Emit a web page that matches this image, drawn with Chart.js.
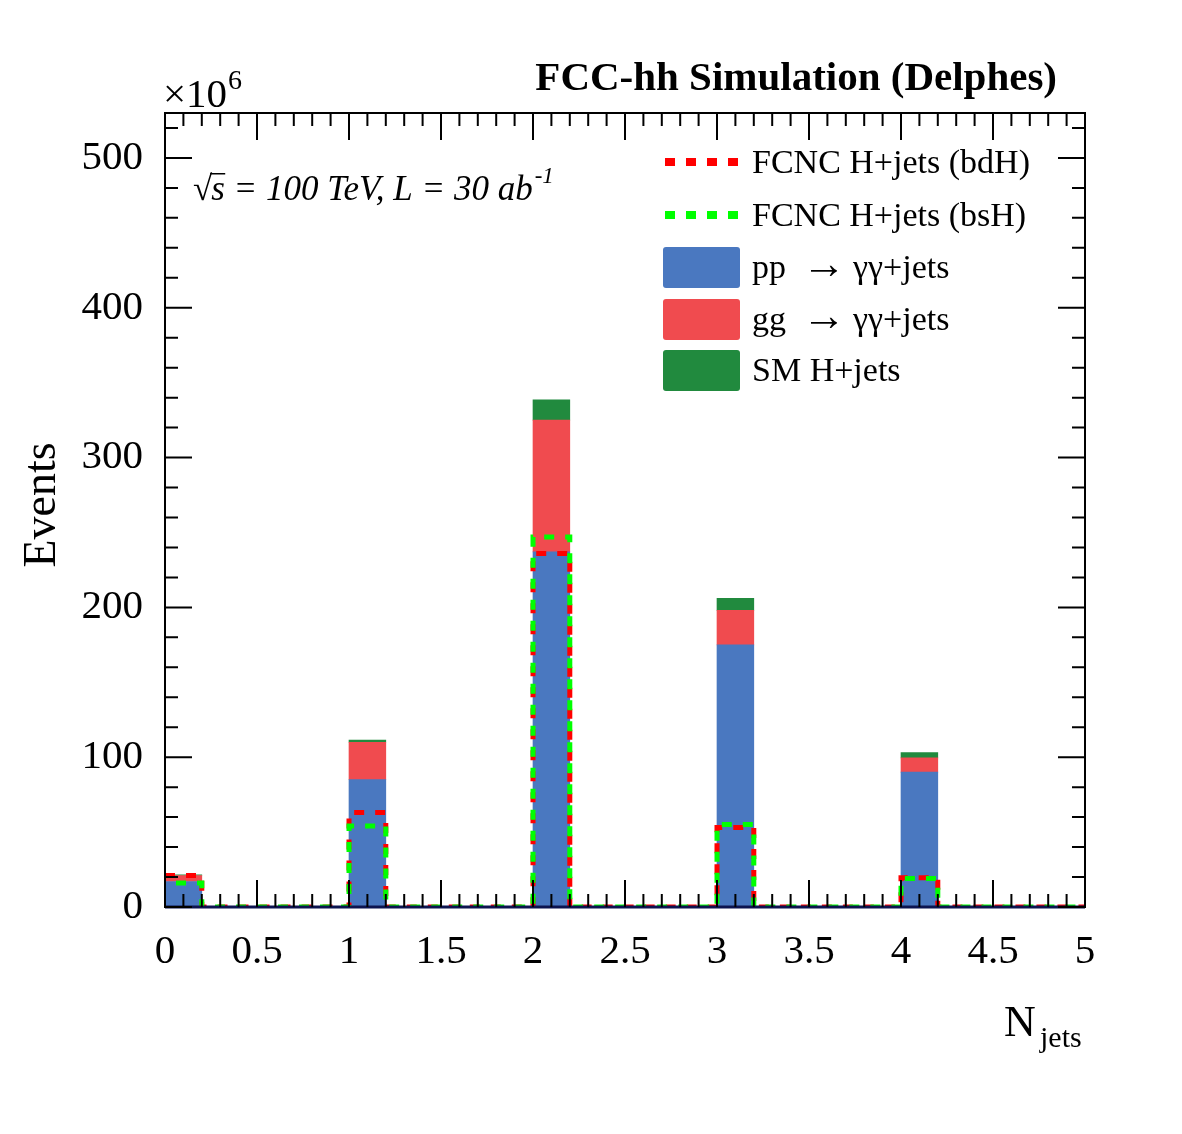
<!DOCTYPE html>
<html>
<head>
<meta charset="utf-8">
<script src="https://cdn.jsdelivr.net/npm/chart.js@4.4.1/dist/chart.umd.min.js"></script>
<style>
  html, body { margin: 0; padding: 0; background: #fff; }
  #wrap { width: 1182px; height: 1134px; position: relative; }
</style>
</head>
<body>
<div id="wrap"><canvas id="chart"></canvas></div>
<script>
// ── data (units of 10^6 events) ──────────────────────────────
const binLow  = [0, 0.2, 0.4, 0.6, 0.8, 1, 1.2, 1.4, 1.6, 1.8, 2, 2.2, 2.4, 2.6, 2.8,
                 3, 3.2, 3.4, 3.6, 3.8, 4, 4.2, 4.4, 4.6, 4.8];
const binHigh = 5;
const ppJets  = [17, 0, 0, 0, 0, 85, 0, 0, 0, 0, 237, 0, 0, 0, 0, 175, 0, 0, 0, 0, 90, 0, 0, 0, 0];
const ggJets  = [4, 0, 0, 0, 0, 25, 0, 0, 0, 0, 88, 0, 0, 0, 0, 23, 0, 0, 0, 0, 9.5, 0, 0, 0, 0];
const smH     = [0.5, 0, 0, 0, 0, 1.5, 0, 0, 0, 0, 13.5, 0, 0, 0, 0, 8, 0, 0, 0, 0, 3.5, 0, 0, 0, 0];
const bdH     = [21, 0, 0, 0, 0, 63, 0, 0, 0, 0, 236, 0, 0, 0, 0, 53, 0, 0, 0, 0, 19.5, 0, 0, 0, 0];
const bsH     = [16, 0, 0, 0, 0, 54, 0, 0, 0, 0, 247, 0, 0, 0, 0, 55, 0, 0, 0, 0, 19, 0, 0, 0, 0];
const xTicks  = [0, 0.5, 1, 1.5, 2, 2.5, 3, 3.5, 4, 4.5, 5];
const yTicks  = [0, 100, 200, 300, 400, 500];
const yMax    = 530;

const SERIF  = '"Liberation Serif", "Times New Roman", serif';
const BLUE   = '#4a78c0';
const RED    = '#f04b4f';
const GREEN  = '#218a3e';
const DASH_R = '#ff0000';
const DASH_G = '#00ff00';

// histogram outline: one point per left edge, plus the last right edge
function stepPoints(vals) {
  const pts = binLow.map((x, i) => ({ x, y: vals[i] }));
  pts.push({ x: binHigh, y: vals[vals.length - 1] });
  return pts;
}

// ROOT-style frame with inward ticks on all four sides
const rootFrame = {
  id: 'rootFrame',
  afterDraw(chart) {
    const { ctx, chartArea: a, scales } = chart;
    const xs = scales.x, ys = scales.y;
    ctx.save();
    ctx.strokeStyle = '#000';
    ctx.lineWidth = 2;
    ctx.strokeRect(a.left, a.top, a.right - a.left, a.bottom - a.top);
    ctx.strokeStyle = '#0c1450';
    ctx.lineWidth = 3;
    ctx.beginPath(); ctx.moveTo(a.left, a.bottom); ctx.lineTo(a.right, a.bottom); ctx.stroke();

    ctx.strokeStyle = '#000';
    ctx.lineWidth = 2;
    ctx.beginPath();
    for (let k = 0; k <= 50; k++) {
      const px = xs.getPixelForValue(k / 10);
      const len = k % 5 === 0 ? 27 : 13;
      ctx.moveTo(px, a.bottom); ctx.lineTo(px, a.bottom - len);
      ctx.moveTo(px, a.top);    ctx.lineTo(px, a.top + len);
    }
    for (let v = 0; v <= yMax; v += 20) {
      const py = ys.getPixelForValue(v);
      const len = v % 100 === 0 ? 27 : 13;
      ctx.moveTo(a.left, py);  ctx.lineTo(a.left + len, py);
      ctx.moveTo(a.right, py); ctx.lineTo(a.right - len, py);
    }
    ctx.stroke();
    ctx.restore();
  }
};

// texts and legend, ROOT TLatex look
const rootTexts = {
  id: 'rootTexts',
  afterDraw(chart) {
    const { ctx } = chart;
    ctx.save();
    ctx.fillStyle = '#000';
    ctx.textBaseline = 'alphabetic';

    // title
    ctx.font = `bold 41px ${SERIF}`;
    ctx.textAlign = 'right';
    ctx.fillText('FCC-hh Simulation (Delphes)', 1057, 90);

    // x10^6
    ctx.textAlign = 'left';
    ctx.font = `41px ${SERIF}`;
    ctx.fillText('\u00d710', 163, 107);
    const w10 = ctx.measureText('\u00d710').width;
    ctx.font = `28px ${SERIF}`;
    ctx.fillText('6', 163 + w10 + 1, 89);

    // sqrt(s), lumi
    let x = 193;
    ctx.font = `35px ${SERIF}`;
    ctx.fillText('\u221a', x, 200);
    x += ctx.measureText('\u221a').width - 1;
    ctx.font = `italic 35px ${SERIF}`;
    const lumi = 's = 100 TeV, L = 30 ab';
    ctx.fillText(lumi, x, 200);
    const sx = x;
    x += ctx.measureText(lumi).width + 2;
    ctx.font = `italic 23px ${SERIF}`;
    ctx.fillText('-1', x, 183);
    // overbar of the root
    ctx.fillRect(sx - 1, 173, 15, 1.5);

    // axis titles
    ctx.font = `46px ${SERIF}`;
    ctx.save();
    ctx.translate(55, 505);
    ctx.rotate(-Math.PI / 2);
    ctx.textAlign = 'center';
    ctx.fillText('Events', 0, 0);
    ctx.restore();

    ctx.textAlign = 'left';
    ctx.font = `44px ${SERIF}`;
    ctx.fillText('N', 1004, 1036);
    ctx.font = `30px ${SERIF}`;
    ctx.fillText('jets', 1040, 1047);

    // legend; label parts: [text, x, font size]
    const rows = [
      { y: 162, kind: 'dash', color: DASH_R, parts: [['FCNC H+jets (bdH)', 752, 34]] },
      { y: 215, kind: 'dash', color: DASH_G, parts: [['FCNC H+jets (bsH)', 752, 34]] },
      { y: 267, kind: 'box',  color: BLUE,
        parts: [['pp', 752, 34], ['\u2192', 802, 44], ['\u03b3\u03b3+jets', 853, 34]] },
      { y: 319, kind: 'box',  color: RED,
        parts: [['gg', 752, 34], ['\u2192', 802, 44], ['\u03b3\u03b3+jets', 853, 34]] },
      { y: 370, kind: 'box',  color: GREEN, parts: [['SM H+jets', 752, 34]] },
    ];
    rows.forEach(r => {
      ctx.fillStyle = r.color;
      if (r.kind === 'dash') {
        for (let k = 0; k < 4; k++) ctx.fillRect(665 + k * 21, r.y - 4, 10, 8);
      } else {
        ctx.beginPath();
        ctx.roundRect(663, r.y - 20, 77, 41, 3);
        ctx.fill();
      }
      ctx.fillStyle = '#000';
      r.parts.forEach(([t, px, size]) => {
        ctx.font = `${size}px ${SERIF}`;
        ctx.fillText(t, px, r.y + 11);
      });
    });
    ctx.restore();
  }
};

const barCommon = { type: 'bar', xAxisID: 'xb', stack: 'bkg', order: 2, grouped: false,
                    barPercentage: 1, categoryPercentage: 1, borderWidth: 0 };
const lineCommon = { type: 'line', xAxisID: 'x', stepped: 'before', borderWidth: 5,
                     borderDash: [10, 11], pointRadius: 0, fill: false, tension: 0 };

new Chart(document.getElementById('chart').getContext('2d'), {
  type: 'bar',
  data: {
    labels: binLow.map(String),
    datasets: [
      { ...lineCommon, label: 'FCNC H+jets (bsH)', data: stepPoints(bsH), stack: 'bsH',
        borderColor: DASH_G, borderDashOffset: 10, order: 0 },
      { ...lineCommon, label: 'FCNC H+jets (bdH)', data: stepPoints(bdH), stack: 'bdH',
        borderColor: DASH_R, order: 1 },
      { ...barCommon, label: 'pp \u2192 \u03b3\u03b3+jets', data: ppJets, backgroundColor: BLUE },
      { ...barCommon, label: 'gg \u2192 \u03b3\u03b3+jets', data: ggJets, backgroundColor: RED },
      { ...barCommon, label: 'SM H+jets', data: smH, backgroundColor: GREEN },
    ]
  },
  options: {
    responsive: true,
    maintainAspectRatio: false,
    animation: false,
    layout: { padding: { top: 113, right: 97, bottom: 0, left: 0 } },
    plugins: { legend: { display: false }, tooltip: { enabled: false } },
    scales: {
      xb: { type: 'category', display: false, stacked: true, offset: true,
            grid: { display: false } },
      x: {
        type: 'linear', position: 'bottom', min: 0, max: binHigh, offset: false,
        afterBuildTicks: s => { s.ticks = xTicks.map(v => ({ value: v })); },
        afterFit: s => { s.height = 227; },
        ticks: { font: { family: SERIF, size: 41 }, color: '#000', padding: 21,
                 maxRotation: 0, autoSkip: false, callback: v => String(v) },
        grid: { display: false, drawTicks: false, offset: false },
        border: { display: false }
      },
      y: {
        type: 'linear', stacked: true, min: 0, max: yMax,
        afterBuildTicks: s => { s.ticks = yTicks.map(v => ({ value: v })); },
        afterFit: s => { s.width = 165; },
        ticks: { font: { family: SERIF, size: 41 }, color: '#000', padding: 22 },
        grid: { display: false, drawTicks: false },
        border: { display: false }
      }
    }
  },
  plugins: [rootFrame, rootTexts]
});
</script>
</body>
</html>
